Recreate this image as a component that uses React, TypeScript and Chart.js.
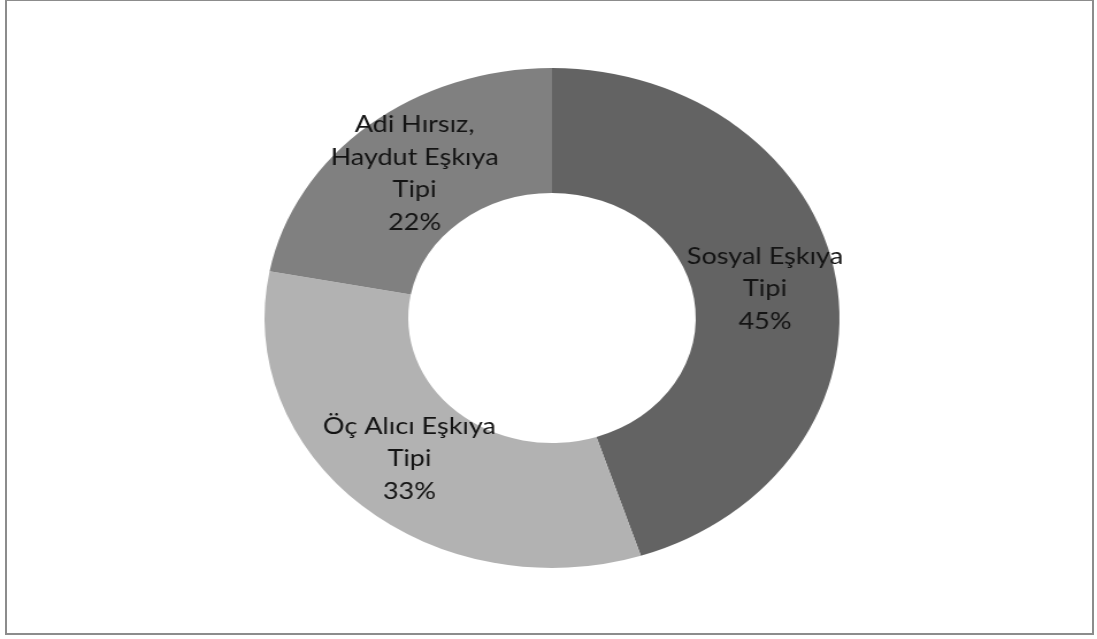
import React, { useEffect, useRef } from "react";
import { Chart, registerables } from "chart.js";

Chart.register(...registerables);

const categories = ["Sosyal Eşkıya Tipi", "Öç Alıcı Eşkıya Tipi", "Adi Hırsız, Haydut Eşkıya Tipi"];
const values = [45, 33, 22];
const labelLines = [
  ["Sosyal Eşkıya", "Tipi"],
  ["Öç Alıcı Eşkıya", "Tipi"],
  ["Adi Hırsız,", "Haydut Eşkıya", "Tipi"],
];
const sliceColors = ["#636363", "#b2b2b2", "#808080"];

const CANVAS_W = 800;
const CANVAS_H = 636;
const STRETCH = 1.15;
const CENTER_X = 551.5;

const labelPlugin = {
  id: "sliceLabels",
  afterDatasetsDraw(chart: any) {
    const ctx = chart.ctx;
    const meta = chart.getDatasetMeta(0);
    const total = values.reduce((a, b) => a + b, 0);
    ctx.save();
    ctx.font = "23.5px Lato";
    ctx.fillStyle = "#141414";
    ctx.textAlign = "center";
    ctx.textBaseline = "middle";
    const lh = 32.5;
    meta.data.forEach((arc: any, i: number) => {
      const p = arc.getCenterPoint();
      const pct = Math.round((values[i] / total) * 100) + "%";
      const lines = [...labelLines[i], pct];
      const startY = p.y - ((lines.length - 1) * lh) / 2;
      lines.forEach((t, j) => ctx.fillText(t, p.x, startY + j * lh));
    });
    ctx.restore();
  },
};

export default function App() {
  const ref = useRef<HTMLCanvasElement | null>(null);
  useEffect(() => {
    if (!ref.current) return;
    const chart = new Chart(ref.current, {
      type: "doughnut",
      data: {
        labels: categories,
        datasets: [
          {
            data: values,
            backgroundColor: sliceColors,
            borderWidth: 0,
          },
        ],
      },
      options: {
        animation: false,
        responsive: false,
        cutout: "50%",
        layout: { padding: { top: 68, bottom: 68, left: 0, right: 0 } },
        plugins: {
          legend: { display: false },
          tooltip: { enabled: false },
        },
      },
      plugins: [labelPlugin],
    });
    return () => chart.destroy();
  }, []);

  return (
    <div
      style={{
        position: "absolute",
        left: 0,
        top: 0,
        width: 1097,
        height: 639,
        background: "#fff",
        overflow: "hidden",
      }}
    >
      <div
        style={{
          position: "absolute",
          left: 5,
          top: -1,
          width: 1089,
          height: 636,
          boxSizing: "border-box",
          border: "2px solid #8c8c8c",
        }}
      />
      <canvas
        ref={ref}
        width={CANVAS_W}
        height={CANVAS_H}
        style={{
          position: "absolute",
          left: CENTER_X - CANVAS_W / 2,
          top: 0,
          width: CANVAS_W,
          height: CANVAS_H,
          transform: `scaleX(${STRETCH})`,
          transformOrigin: `${CANVAS_W / 2}px 0px`,
        }}
      />
    </div>
  );
}
